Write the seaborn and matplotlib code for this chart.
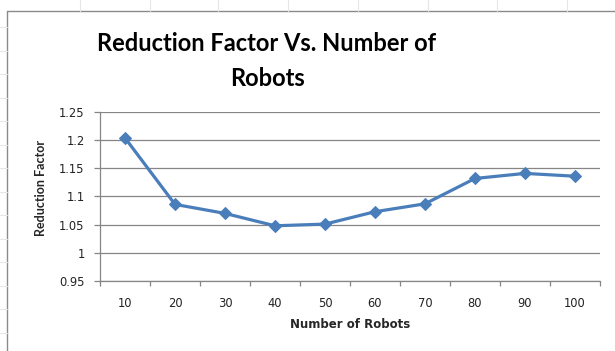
import matplotlib
matplotlib.use("Agg")
import matplotlib.pyplot as plt
from matplotlib.ticker import FixedLocator
import seaborn as sns
import pandas as pd

robots = [10, 20, 30, 40, 50, 60, 70, 80, 90, 100]
reduction = [1.204, 1.086, 1.070, 1.048, 1.051, 1.073, 1.087, 1.132, 1.141, 1.136]
y_ticks = [0.95, 1.0, 1.05, 1.1, 1.15, 1.2, 1.25]
y_labels = ["0.95", "1", "1.05", "1.1", "1.15", "1.2", "1.25"]

sns.set_theme(style="white")
plt.rcParams["font.family"] = ["Lato", "DejaVu Sans"]

df = pd.DataFrame({"Number of Robots": robots, "Reduction Factor": reduction})

W, H = 615, 351
fig = plt.figure(figsize=(W / 100, H / 100), dpi=100)
fig.patch.set_facecolor("white")
ax = fig.add_axes([100 / W, 1 - 281 / H, 500 / W, 169 / H])

line_color = "#4A7EBB"
axis_gray = "#868686"
tick_font = {"family": ["DejaVu Sans"], "size": 8.3, "color": "#222222"}

sns.lineplot(data=df, x="Number of Robots", y="Reduction Factor", ax=ax,
             color=line_color, linewidth=2.3, marker="D", markersize=6.5,
             markeredgecolor=line_color, markerfacecolor=line_color)

ax.set_xlim(5, 105)
ax.set_ylim(0.95, 1.25)

ax.set_xticks(robots)
ax.set_xticklabels([str(r) for r in robots], fontdict=tick_font)
ax.xaxis.set_minor_locator(FixedLocator([5 + 10 * i for i in range(11)]))
ax.tick_params(axis="x", which="major", length=0, pad=11.5)
ax.tick_params(axis="x", which="minor", length=3.5, color=axis_gray, width=0.9,
               direction="out", bottom=True)

ax.set_yticks(y_ticks)
ax.set_yticklabels(y_labels, fontdict=tick_font)
ax.tick_params(axis="y", which="major", length=4.5, color=axis_gray, width=0.9,
               direction="out", left=True, pad=6.5)

ax.grid(axis="y", color=axis_gray, linewidth=0.9)
ax.grid(axis="x", visible=False)
ax.set_axisbelow(True)

for side in ["top", "right"]:
    ax.spines[side].set_visible(False)
for side in ["left", "bottom"]:
    ax.spines[side].set_color(axis_gray)
    ax.spines[side].set_linewidth(0.9)

ax.set_xlabel("Number of Robots", fontsize=8.5, fontweight="bold",
              family=["DejaVu Sans"])
ax.xaxis.set_label_coords((350 - 100) / 500, -(325 - 281) / 169)
ax.xaxis.label.set_va("center")
ax.set_ylabel("Reduction Factor", fontsize=9, fontweight="bold")
ax.yaxis.set_label_coords(-(100 - 41) / 500, (281 - 188) / 169)
ax.yaxis.label.set_va("center")

# two-line chart title
title_x = 267 / W
fig.text(title_x, 1 - 51 / H, "Reduction Factor Vs. Number of",
         ha="center", va="baseline", fontsize=17, fontweight="bold", color="#000000")
fig.text(title_x, 1 - 86 / H, "Robots",
         ha="center", va="baseline", fontsize=17, fontweight="bold", color="#000000")

# chart area frame (left and top edges visible)
frame_c = "#8a8a8a"
fig.add_artist(plt.Line2D([7 / W, 7 / W], [0, 1 - 11 / H],
                          transform=fig.transFigure, color=frame_c, linewidth=1))
fig.add_artist(plt.Line2D([7 / W, 1], [1 - 11 / H, 1 - 11 / H],
                          transform=fig.transFigure, color=frame_c, linewidth=1))

# faint worksheet cell lines peeking out around the chart
cell_c = "#e6e6e6"
for cx in [80, 150, 218, 288, 358, 428, 497, 567]:
    fig.add_artist(plt.Line2D([cx / W, cx / W], [1 - 11 / H, 1],
                              transform=fig.transFigure, color=cell_c, linewidth=0.8))
for k in range(14):
    cy = 27 + 23.5 * k
    if cy > H:
        break
    fig.add_artist(plt.Line2D([0, 7 / W], [1 - cy / H, 1 - cy / H],
                              transform=fig.transFigure, color=cell_c, linewidth=0.8))

fig.savefig("out.png", dpi=100, facecolor="white")
